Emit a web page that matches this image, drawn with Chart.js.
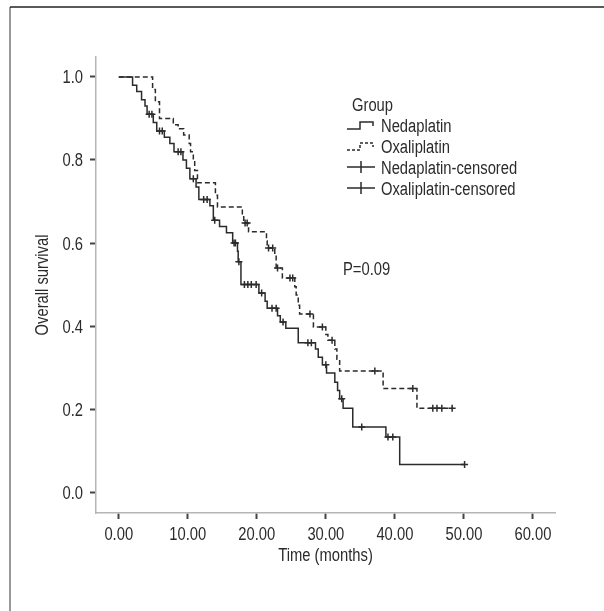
<!DOCTYPE html>
<html>
<head>
<meta charset="utf-8">
<script src="https://cdn.jsdelivr.net/npm/chart.js@4"></script>
<style>
  html, body { margin: 0; padding: 0; background: #fff; }
  canvas { display: block; }
</style>
</head>
<body>
<canvas id="kmChart" width="604" height="611"></canvas>
<script>
// Kaplan-Meier overall survival
const xTicks = [0, 10, 20, 30, 40, 50, 60];
const yTicks = [0, 0.2, 0.4, 0.6, 0.8, 1.0];

// Nedaplatin: event times (months) and survival after each event
const nedTimes = [0, 2.0, 2.6, 3.3, 3.8, 4.1, 5.0, 5.5, 6.6, 7.4, 8.0, 9.3, 9.8, 10.3, 11.2, 11.6, 13.2, 13.7, 14.6, 15.6,
    16.5, 17.2, 17.3, 17.7, 20.3, 21.2, 21.5, 23.0, 23.4, 24.2, 26.0, 28.5, 28.9, 29.5, 30.1, 31.3, 31.7, 32.0, 32.5, 33.9,
    38.7, 40.7];
const nedSurv = [1.0, 0.98, 0.965, 0.945, 0.93, 0.91, 0.89, 0.87, 0.855, 0.84, 0.82, 0.80, 0.78, 0.755, 0.735, 0.705, 0.69, 0.655, 0.64, 0.625,
    0.60, 0.58, 0.555, 0.50, 0.48, 0.46, 0.443, 0.425, 0.41, 0.395, 0.36, 0.345, 0.325, 0.307, 0.287, 0.265, 0.245, 0.225, 0.202, 0.157,
    0.133, 0.067];
const nedCensored = [4.4, 4.8, 5.9, 6.3, 8.6, 9.0, 10.8, 12.3, 12.8, 13.9, 16.7, 16.9, 17.4, 18.2, 18.7, 19.2, 19.9, 20.7,
    22.2, 22.8, 23.8, 27.4, 27.9, 30.0, 32.3, 35.2, 39.0, 39.7, 50.1];

// Oxaliplatin
const oxaTimes = [0, 4.9, 5.3, 5.9, 7.9, 8.6, 9.4, 10.2, 10.4, 10.8, 11.0, 11.4, 14.0, 14.3, 17.9, 18.1, 18.8, 21.4, 21.5, 22.6,
    22.8, 23.7, 25.5, 25.7, 26.0, 26.2, 28.2, 30.0, 30.3, 31.3, 31.6, 32.0, 38.3, 43.2];
const oxaSurv = [1.0, 0.97, 0.94, 0.90, 0.885, 0.875, 0.86, 0.84, 0.82, 0.80, 0.775, 0.745, 0.715, 0.687, 0.667, 0.648, 0.627, 0.605, 0.588, 0.571,
    0.54, 0.516, 0.495, 0.475, 0.45, 0.429, 0.398, 0.38, 0.366, 0.345, 0.32, 0.292, 0.25, 0.202];
const oxaCensored = [18.3, 18.6, 21.7, 22.3, 23.0, 24.8, 25.2, 27.7, 29.5, 30.9, 37.1, 42.6, 45.5, 46.1, 46.8, 48.3];

const xTitle = 'Time (months)';
const yTitle = 'Overall survival';
const pValueText = 'P=0.09';

// no condensed face installed, so text is squeezed horizontally by hand
const FONT = "18px 'Liberation Sans', Arial, sans-serif";
const SQUEEZE = 0.82;
const INK = '#2b2b2b';

const survivalAt = (times, surv, t) => {
    let s = surv[0];
    for (let i = 0; i < times.length; i++) {
        if (times[i] <= t) s = surv[i];
    }
    return s;
};

const stepPoints = (times, surv, censored) => {
    const pts = times.map((t, i) => ({ x: t, y: surv[i] }));
    const last = censored[censored.length - 1];
    if (last > times[times.length - 1]) pts.push({ x: last, y: surv[surv.length - 1] });
    return pts;
};

const censorPoints = (times, surv, censored) =>
    censored.map((t) => ({ x: t, y: survivalAt(times, surv, t) }));

const drawText = (ctx, text, x, y, align = 'left', rotate = 0) => {
    ctx.save();
    ctx.translate(x, y);
    if (rotate) ctx.rotate(rotate);
    ctx.scale(SQUEEZE, 1);
    ctx.font = FONT;
    ctx.fillStyle = INK;
    ctx.textAlign = align;
    ctx.textBaseline = 'alphabetic';
    ctx.fillText(text, 0, 0);
    ctx.restore();
};

const framePlugin = {
    id: 'frame',
    beforeDraw(chart) {
        const { ctx, width, height } = chart;
        ctx.save();
        ctx.fillStyle = '#fff';
        ctx.fillRect(0, 0, width, height);
        ctx.lineWidth = 1.5;
        ctx.strokeStyle = '#777';
        ctx.beginPath();
        ctx.moveTo(10, height);
        ctx.lineTo(10, 7);
        ctx.stroke();
        ctx.strokeStyle = '#222';
        ctx.beginPath();
        ctx.moveTo(10, 7);
        ctx.lineTo(width, 7);
        ctx.stroke();
        ctx.restore();
    },
};

// tick labels and axis titles, placed through the chart's own scales
const axisTextPlugin = {
    id: 'axisText',
    afterDraw(chart) {
        const { ctx, scales: { x, y } } = chart;
        xTicks.forEach((v) => drawText(ctx, v.toFixed(2), x.getPixelForValue(v), x.top + 27, 'center'));
        yTicks.forEach((v) => drawText(ctx, v.toFixed(1), y.right - 13, y.getPixelForValue(v) + 6.5, 'right'));
        drawText(ctx, xTitle, (x.left + x.right) / 2, x.top + 48, 'center');
        drawText(ctx, yTitle, 48, (y.top + y.bottom) / 2, 'center', -Math.PI / 2);
    },
};

const legendRows = [
    { label: 'Nedaplatin', kind: 'step', dash: [] },
    { label: 'Oxaliplatin', kind: 'step', dash: [3, 2] },
    { label: 'Nedaplatin-censored', kind: 'cross' },
    { label: 'Oxaliplatin-censored', kind: 'cross' },
];

const legendPlugin = {
    id: 'kmLegend',
    afterDraw(chart) {
        const { ctx } = chart;
        const x0 = 347;
        const textX = 381;
        const firstY = 125;
        const rowGap = 21;
        drawText(ctx, 'Group', 352, 104 + 6.5);
        ctx.save();
        ctx.strokeStyle = INK;
        ctx.lineWidth = 1.5;
        legendRows.forEach((row, i) => {
            const y = firstY + i * rowGap;
            ctx.beginPath();
            if (row.kind === 'step') {
                ctx.setLineDash(row.dash);
                ctx.moveTo(x0, y + 4);
                ctx.lineTo(x0 + 13, y + 4);
                ctx.lineTo(x0 + 13, y - 3);
                ctx.lineTo(x0 + 26, y - 3);
                ctx.lineTo(x0 + 26, y + 1);
            } else {
                ctx.setLineDash([]);
                ctx.moveTo(x0, y);
                ctx.lineTo(x0 + 28, y);
                ctx.moveTo(x0 + 14, y - 6);
                ctx.lineTo(x0 + 14, y + 6);
            }
            ctx.stroke();
            drawText(ctx, row.label, textX, y + 6.5);
        });
        ctx.restore();
        drawText(ctx, pValueText, 343, 268 + 6.5);
    },
};

const hiddenTicks = { display: false };

new Chart(document.getElementById('kmChart'), {
    type: 'scatter',
    data: {
        datasets: [
            {
                label: 'Nedaplatin',
                data: stepPoints(nedTimes, nedSurv, nedCensored),
                showLine: true,
                stepped: true,
                borderColor: INK,
                borderWidth: 1.5,
                pointRadius: 0,
            },
            {
                label: 'Oxaliplatin',
                data: stepPoints(oxaTimes, oxaSurv, oxaCensored),
                showLine: true,
                stepped: true,
                borderColor: INK,
                borderWidth: 1.5,
                borderDash: [5, 3],
                pointRadius: 0,
            },
            {
                label: 'Nedaplatin-censored',
                data: censorPoints(nedTimes, nedSurv, nedCensored),
                pointStyle: 'cross',
                pointRadius: 3.5,
                borderColor: INK,
                borderWidth: 1.5,
            },
            {
                label: 'Oxaliplatin-censored',
                data: censorPoints(oxaTimes, oxaSurv, oxaCensored),
                pointStyle: 'cross',
                pointRadius: 3.5,
                borderColor: INK,
                borderWidth: 1.5,
            },
        ],
    },
    options: {
        responsive: false,
        animation: false,
        layout: {
            padding: { left: 0, top: 57, right: 49, bottom: 38 },
        },
        plugins: {
            legend: { display: false },
            tooltip: { enabled: false },
        },
        scales: {
            x: {
                type: 'linear',
                min: -3.3,
                max: 63.2,
                afterFit: (scale) => { scale.height = 60; },
                afterBuildTicks: (scale) => { scale.ticks = xTicks.map((v) => ({ value: v })); },
                border: { color: '#b5b5b5', width: 1.5 },
                grid: {
                    drawOnChartArea: false,
                    drawTicks: true,
                    tickLength: 6,
                    tickColor: '#444',
                    tickWidth: 2,
                },
                ticks: hiddenTicks,
            },
            y: {
                type: 'linear',
                min: -0.05,
                max: 1.048,
                afterFit: (scale) => { scale.width = 96; },
                afterBuildTicks: (scale) => { scale.ticks = yTicks.map((v) => ({ value: v })); },
                border: { color: '#b5b5b5', width: 1.5 },
                grid: {
                    drawOnChartArea: false,
                    drawTicks: true,
                    tickLength: 6,
                    tickColor: '#444',
                    tickWidth: 2,
                },
                ticks: hiddenTicks,
            },
        },
    },
    plugins: [framePlugin, axisTextPlugin, legendPlugin],
});
</script>
</body>
</html>
